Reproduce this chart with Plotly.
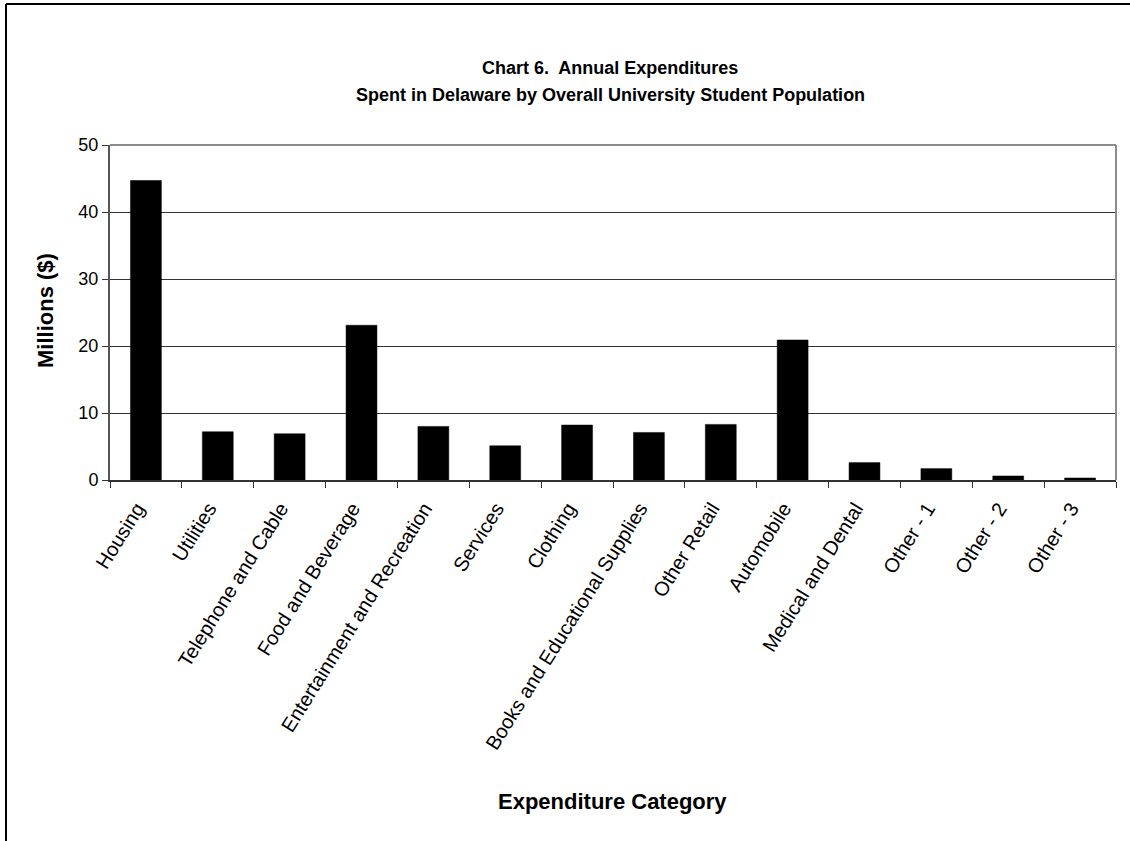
import plotly.graph_objects as go

# Expenditure categories and annual spending (millions of dollars)
categories = [
    "Housing", "Utilities", "Telephone and Cable", "Food and Beverage",
    "Entertainment and Recreation", "Services", "Clothing",
    "Books and Educational Supplies", "Other Retail", "Automobile",
    "Medical and Dental", "Other - 1", "Other - 2", "Other - 3",
]
spending = [44.7, 7.2, 6.9, 23.1, 8.0, 5.1, 8.2, 7.1, 8.3, 20.9, 2.6, 1.7, 0.6, 0.3]

y_ticks = [0, 10, 20, 30, 40, 50]

title_lines = [
    "Chart 6.  Annual Expenditures",
    "Spent in Delaware by Overall University Student Population",
]

FONT = "Liberation Sans, Arial, sans-serif"
W, H = 1130, 841
L, R, T, B = 110, 14, 145, 361


def px_to_paper_x(px):
    return (px - L) / (W - L - R)


def px_to_paper_y(py):
    return (H - B - py) / (H - T - B)


fig = go.Figure(
    go.Bar(
        x=categories,
        y=spending,
        marker=dict(color="#000000", line=dict(color="#000000", width=0.5)),
    )
)

fig.update_layout(
    width=W,
    height=H,
    margin=dict(l=L, r=R, t=T, b=B, autoexpand=False),
    paper_bgcolor="white",
    plot_bgcolor="white",
    bargap=0.57,
    showlegend=False,
    font=dict(family=FONT, color="black"),
)

fig.update_xaxes(
    type="category",
    tickangle=-58,
    tickfont=dict(family=FONT, size=20, color="black"),
    ticks="outside",
    tickson="boundaries",
    ticklen=6,
    tickcolor="#333333",
    ticklabelshift=-9,
    ticklabelstandoff=7,
    showline=True,
    linecolor="#333333",
    linewidth=2,
    mirror=False,
    showgrid=False,
)

fig.update_yaxes(
    range=[0, 50],
    tickvals=y_ticks,
    tickfont=dict(family=FONT, size=18, color="black"),
    ticks="outside",
    ticklen=6,
    tickcolor="#333333",
    showline=True,
    linecolor="#555555",
    linewidth=2,
    showgrid=True,
    gridcolor="#333333",
    gridwidth=1,
    zeroline=False,
)

# Plot-area frame: grey top and right edges
fig.add_shape(type="line", xref="paper", yref="paper", x0=0, x1=1, y0=1, y1=1,
              line=dict(color="#8c8c8c", width=2))
fig.add_shape(type="line", xref="paper", yref="paper", x0=1, x1=1, y0=0, y1=1,
              line=dict(color="#8c8c8c", width=2))

# Chart-area border (left and top edges)
fig.add_shape(type="line", xref="paper", yref="paper",
              x0=px_to_paper_x(6), x1=px_to_paper_x(W + 5),
              y0=px_to_paper_y(4), y1=px_to_paper_y(4),
              line=dict(color="black", width=2))
fig.add_shape(type="line", xref="paper", yref="paper",
              x0=px_to_paper_x(6), x1=px_to_paper_x(6),
              y0=px_to_paper_y(4), y1=px_to_paper_y(H + 5),
              line=dict(color="black", width=2))

# Two-line chart title
for text, ypx in zip(title_lines, [68, 95]):
    fig.add_annotation(text=f"<b>{text}</b>", xref="paper", yref="paper",
                       x=px_to_paper_x(610), y=px_to_paper_y(ypx),
                       xanchor="center", yanchor="middle", showarrow=False,
                       font=dict(family=FONT, size=18, color="black"))

# Axis titles
fig.add_annotation(text="<b>Millions ($)</b>", xref="paper", yref="paper",
                   x=px_to_paper_x(45), y=px_to_paper_y(311),
                   xanchor="center", yanchor="middle", textangle=-90,
                   showarrow=False, font=dict(family=FONT, size=22, color="black"))
fig.add_annotation(text="<b>Expenditure Category</b>", xref="paper", yref="paper",
                   x=px_to_paper_x(612), y=px_to_paper_y(801),
                   xanchor="center", yanchor="middle",
                   showarrow=False, font=dict(family=FONT, size=22, color="black"))

fig.write_html("out.html")
